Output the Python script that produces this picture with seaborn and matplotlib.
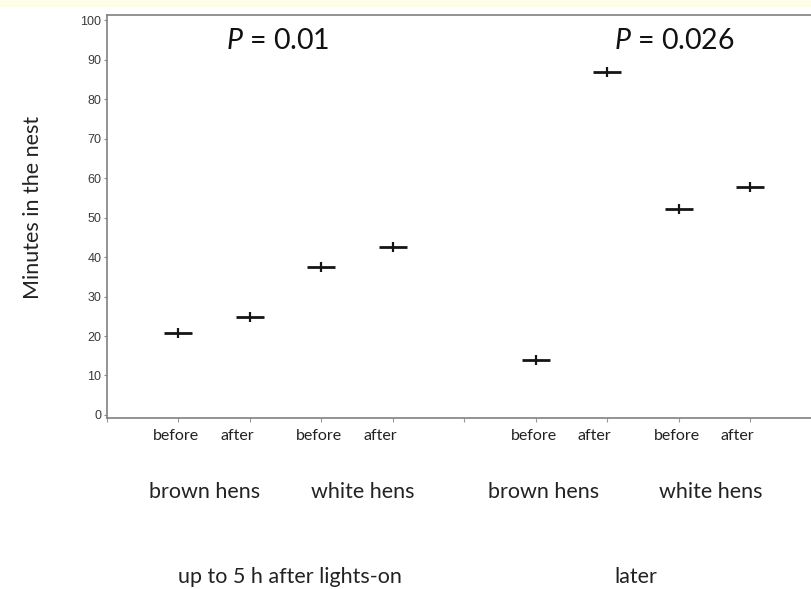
import matplotlib
matplotlib.use("Agg")
import matplotlib.pyplot as plt
import matplotlib.transforms as mtransforms
from matplotlib.patches import Rectangle
import seaborn as sns
import pandas as pd

# ---- data ----
periods = ["up to 5 h after lights-on", "later"]
breeds = ["brown hens", "white hens"]
phases = ["before", "after"]
minutes_early = [20.7, 24.9, 37.4, 42.6]   # brown before/after, white before/after
minutes_later = [13.9, 86.8, 52.2, 57.6]
p_values = ["0.01", "0.026"]

# ---- build table ----
rows = []
for pi, vals in enumerate([minutes_early, minutes_later]):
    k = 0
    for bi, breed in enumerate(breeds):
        for si, ph in enumerate(phases):
            slot = 1 + pi * 5 + bi * 2 + si
            rows.append(dict(period=periods[pi], breed=breed, phase=ph,
                             slot=slot, minutes=vals[k]))
            k += 1
df = pd.DataFrame(rows)

sns.set_style("white")
plt.rcParams["font.family"] = ["Lato", "DejaVu Sans"]
plt.rcParams["mathtext.fontset"] = "custom"
plt.rcParams["mathtext.it"] = "Lato:italic"
plt.rcParams["mathtext.rm"] = "Lato"

W, H = 811, 589
fig = plt.figure(figsize=(W / 100, H / 100), dpi=100)
fig.patch.set_facecolor("white")
fig.patches.append(Rectangle((0, 1 - 7 / H), 1, 7 / H, transform=fig.transFigure,
                             facecolor="#fdfde9", edgecolor="none", zorder=0))

x0, x10 = 107, 822
ytop, ybot = 15, 418
ax = fig.add_axes([x0 / W, 1 - ybot / H, (x10 - x0) / W, (ybot - ytop) / H])
ax.set_facecolor("white")

sns.scatterplot(data=df, x="slot", y="minutes", marker="_", s=20 ** 2,
                linewidth=2.0, color="#151515", ax=ax, zorder=3, legend=False)
sns.scatterplot(data=df, x="slot", y="minutes", marker="|", s=7 ** 2,
                linewidth=1.6, color="#151515", ax=ax, zorder=4, legend=False)

ax.set_xlim(0, 10)
ax.set_ylim(-0.76, 101.27)
ax.set_xticks(range(0, 11))
ax.set_xticklabels([])
ax.set_yticks(range(0, 101, 10))
ax.set_yticklabels([str(v) for v in range(0, 101, 10)], family="Liberation Sans",
                   fontsize=9, color="#3a3a3a")
ax.tick_params(axis="y", length=2, width=0.8, color="#888888", pad=2, left=True)
ax.tick_params(axis="x", length=3, width=0.8, color="#999999", bottom=True)
for s in ax.spines.values():
    s.set_color("#808080")
    s.set_linewidth(1.2)
ax.set_xlabel("")
ax.set_ylabel("")

# y label
fig.text(33 / W, 1 - 207 / H, "Minutes in the nest", rotation=90, ha="center",
         va="center", fontsize=15.5, color="#222222")

# before/after labels (positioned relative to slot ticks)
blend = mtransforms.blended_transform_factory(ax.transData, fig.transFigure)
for _, r in df.iterrows():
    off = -0.03 if r.phase == "before" else -0.18
    ax.text(r.slot + off, 1 - 436 / H, r.phase,
            transform=blend, ha="center", va="center", fontsize=11.5, color="#222222")

# breed labels (centres in slot units, layout only)
breed_label_x = [[1.36, 3.57], [6.11, 8.44]]
for pi in range(2):
    for bi, breed in enumerate(breeds):
        ax.text(breed_label_x[pi][bi], 1 - 492 / H, breed, transform=blend,
                ha="center", va="center", fontsize=15.5, color="#222222")

# period labels
period_label_x = [2.56, 7.4]
for pi, per in enumerate(periods):
    ax.text(period_label_x[pi], 1 - 577 / H, per, transform=blend, ha="center",
            va="center", fontsize=15.5, color="#222222")

# P values
p_label_x = [2.39, 7.94]
for pi, pv in enumerate(p_values):
    ax.text(p_label_x[pi], 94.6, r"$P$ = " + pv, ha="center", va="center",
            fontsize=20.5, color="#111111")

fig.savefig("out.png", dpi=100)
